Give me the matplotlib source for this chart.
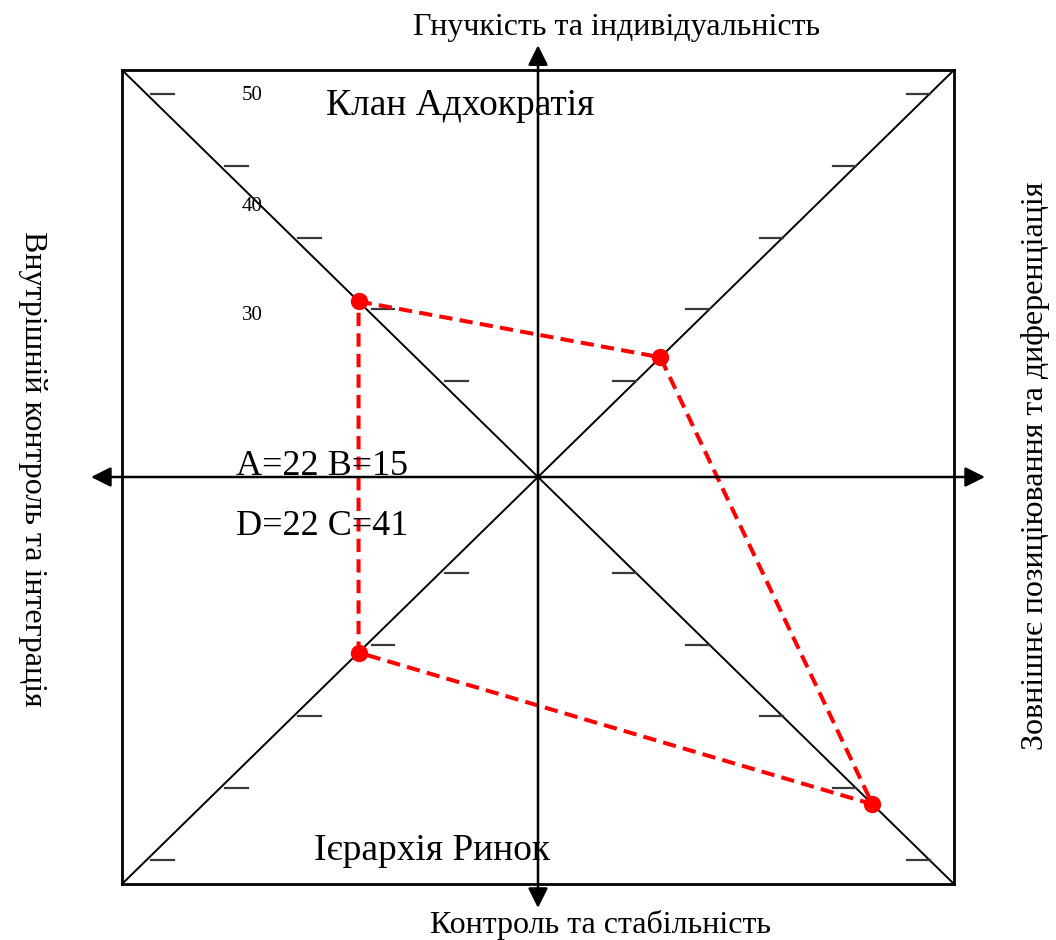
import numpy as np
import matplotlib.pyplot as plt

plt.rcParams['font.family'] = ['Liberation Serif', 'DejaVu Serif']

# values of the four culture types
labels = ['A', 'B', 'C', 'D']
values = [22, 15, 41, 22]
# direction of each diagonal (A upper-left, B upper-right, C lower-right, D lower-left)
dirs = [(-1, 1), (1, 1), (1, -1), (-1, -1)]
# gray tick dashes along the diagonals
tick_levels = [12, 21, 30, 39, 48]
# scale labels printed near the upper-left diagonal
scale_labels = ['50', '40', '30']
scale_pos = [47.8, 33.9, 20.2]

LIM = 51
W, H = 1056, 940
fig = plt.figure(figsize=(W / 100, H / 100), dpi=100)
ax = fig.add_axes([122 / W, 1 - 884 / H, (954 - 122) / W, (884 - 70) / H])
ax.set_xlim(-LIM, LIM)
ax.set_ylim(-LIM, LIM)
ax.set_xticks([])
ax.set_yticks([])
for sp in ax.spines.values():
    sp.set_linewidth(2)
    sp.set_color('black')

# diagonals
ax.plot([-LIM, LIM], [LIM, -LIM], color='black', lw=1.4)
ax.plot([-LIM, LIM], [-LIM, LIM], color='black', lw=1.4)

# axis arrows
arr = dict(arrowstyle='<|-|>,head_length=0.6,head_width=0.3', color='black',
           lw=1.8, mutation_scale=20, shrinkA=0, shrinkB=0)
ax.annotate('', xy=(54.8, 0), xytext=(-54.8, 0), arrowprops=arr, annotation_clip=False)
ax.annotate('', xy=(0, 54.1), xytext=(0, -54.0), arrowprops=arr, annotation_clip=False)

# tick dashes
dl = 2.8
for t in tick_levels:
    for sx in (-1, 1):
        for sy in (-1, 1):
            if sx < 0:
                xs = [-t + 0.6, -t + 0.6 + dl]
            else:
                xs = [t - dl, t]
            ax.plot(xs, [sy * t, sy * t], color='#3a3a3a', lw=1.6)

for lab, p in zip(scale_labels, scale_pos):
    ax.text(-35.0, p, lab, fontsize=15, ha='center', va='center')

# profile polygon
px = [d[0] * v for d, v in zip(dirs, values)]
py = [d[1] * v for d, v in zip(dirs, values)]
ax.plot(px + px[:1], py + py[:1], color='red', lw=2.9, ls=(0, (3.3, 1.8)))
ax.plot(px, py, 'o', color='red', ms=11.5, zorder=5)

# value text
ax.text(-37.0, 1.35, f'{labels[0]}={values[0]} {labels[1]}={values[1]}', fontsize=26, va='center')
ax.text(-37.0, -6.15, f'{labels[3]}={values[3]} {labels[2]}={values[2]}', fontsize=26, va='center')

# quadrant names
fig.text(460 / W, 1 - 106 / H, 'Клан Адхократія', fontsize=27, ha='center', va='center')
fig.text(432 / W, 1 - 851 / H, 'Ієрархія Ринок', fontsize=27, ha='center', va='center')

# axis titles
fig.text(617 / W, 1 - 28 / H, 'Гнучкість та індивідуальність', fontsize=23, ha='center', va='center')
fig.text(600 / W, 1 - 925 / H, 'Контроль та стабільність', fontsize=23, ha='center', va='center')
fig.text(32 / W, 1 - 469 / H, 'Внутрішній контроль та інтеграція', fontsize=23,
         ha='center', va='center', rotation=270)
fig.text(1035 / W, 1 - 466 / H, 'Зовнішнє позиціювання та диференціація', fontsize=23,
         ha='center', va='center', rotation=90)

fig.savefig('out.png', dpi=100)
